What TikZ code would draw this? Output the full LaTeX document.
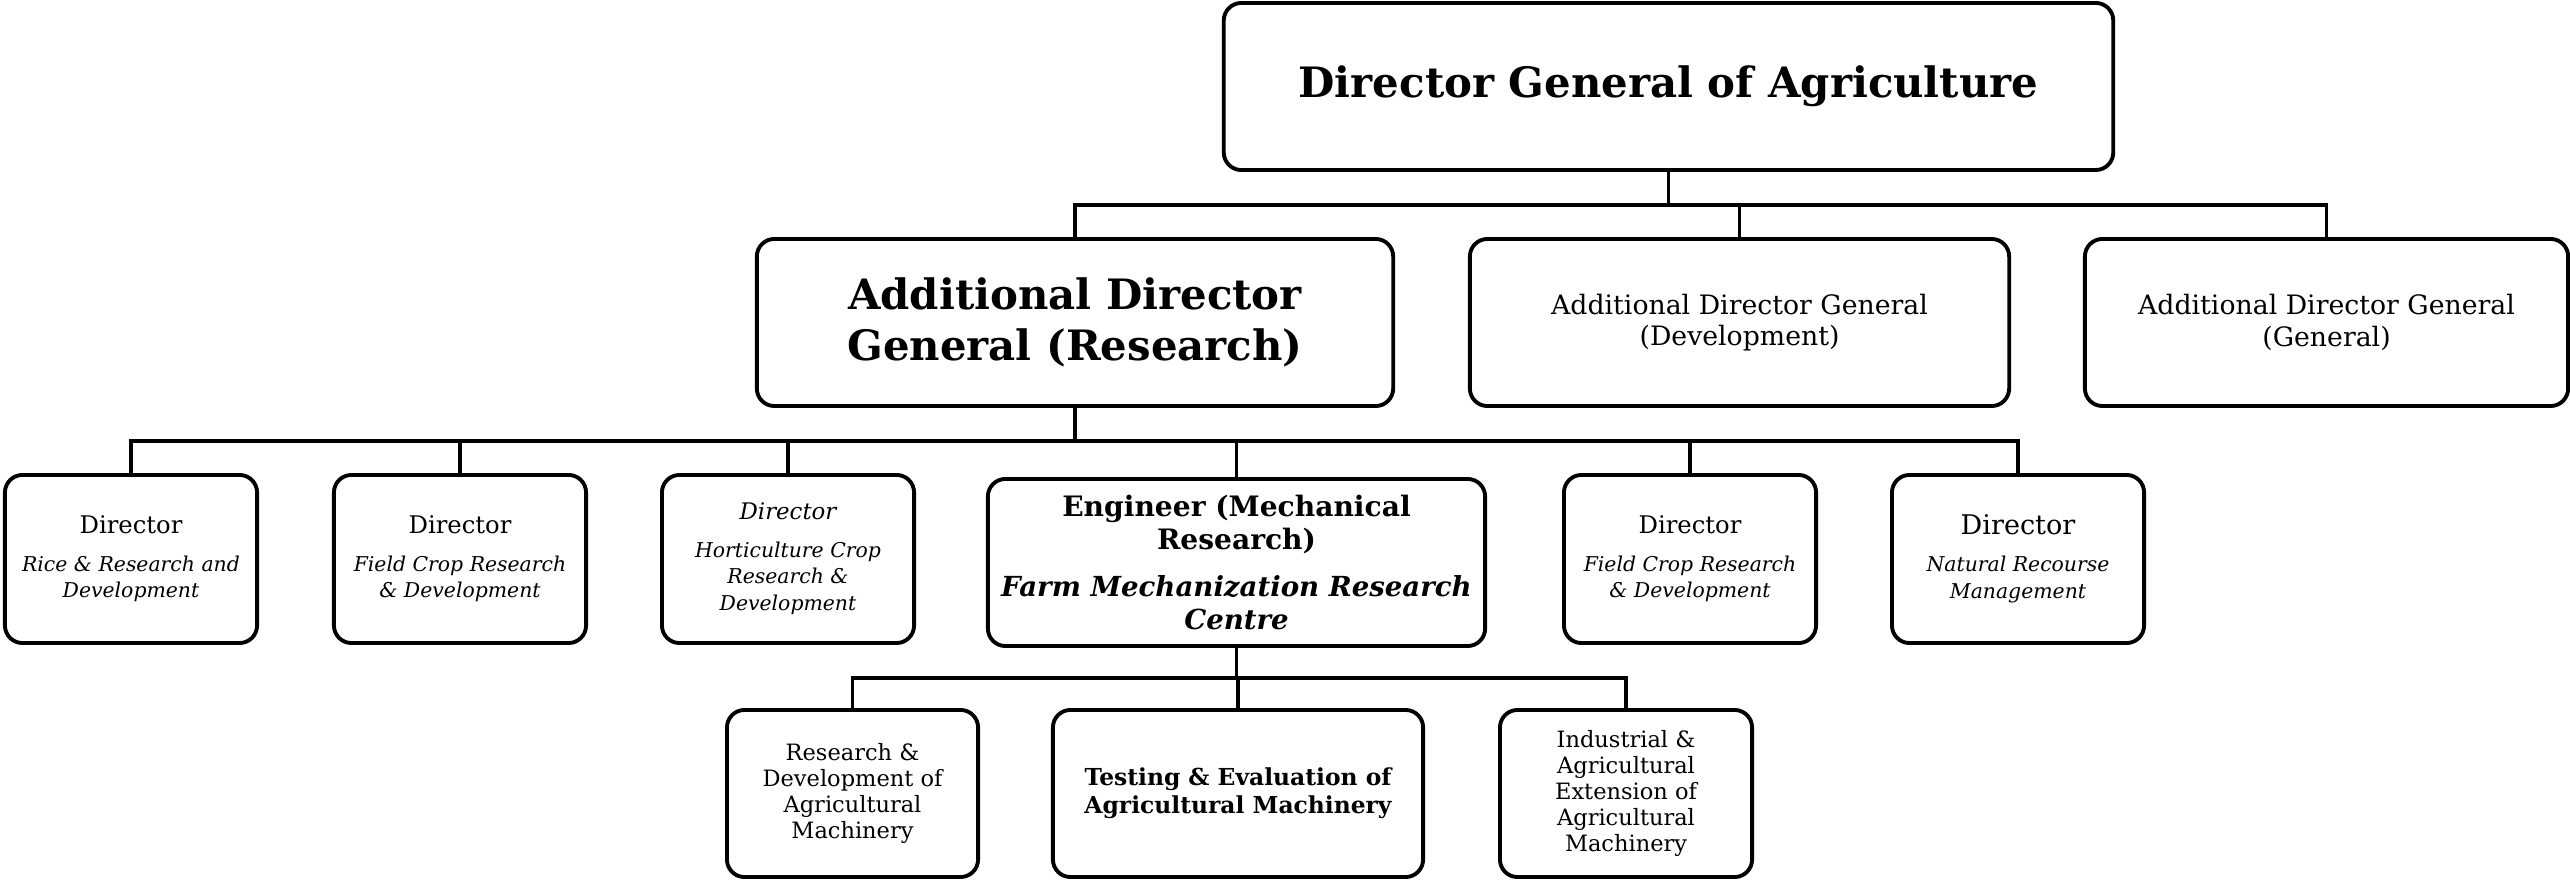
\documentclass[tikz,border=0pt]{standalone}
\usepackage{fontspec}
\setmainfont{DejaVu Serif}
\begin{document}
\begin{tikzpicture}[x=0.01cm,y=-0.01cm,
  box/.style={draw=black,line width=1.1pt,rounded corners=5pt,inner sep=0pt,align=center,fill=white},
  conn/.style={draw=black,line width=0.9pt},
  fTitle/.style={font=\fontsize{11.9}{14}\selectfont\bfseries},
  fBig/.style={font=\fontsize{11.9}{14.5}\selectfont\bfseries},
  fMid/.style={font=\fontsize{7.6}{9}\selectfont},
  fDir/.style={font=\fontsize{5.8}{7.6}\selectfont},
  fEng/.style={font=\fontsize{8}{9.4}\selectfont\bfseries},
  fTest/.style={font=\fontsize{6.65}{8}\selectfont\bfseries},
  fSub/.style={font=\fontsize{6.4}{7.4}\selectfont},
  dirw/.style={font=\fontsize{6.9}{8}\selectfont}]
\useasboundingbox (0,0) rectangle (2570,880);
\fill[white] (0,0) rectangle (2570,880);

% top
\node[box,fTitle,minimum width=8.89cm,minimum height=1.67cm] (top) at (1668.5,86.5) {Director General of Agriculture};

% row 2
\node[box,fBig,minimum width=6.36cm,minimum height=1.67cm] (adgr) at (1075,322.5) {Additional Director\\General (Research)};
\node[box,fMid,minimum width=5.39cm,minimum height=1.67cm] (adgd) at (1739.5,322.5) {Additional Director General\\(Development)};
\node[box,fMid,minimum width=4.83cm,minimum height=1.67cm] (adgg) at (2326.5,322.5) {Additional Director General\\(General)};

% row 3
\node[box,fDir,minimum width=2.52cm,minimum height=1.68cm] (rice) at (131,559) {{\fontsize{6.9}{8}\selectfont Director}\\[3pt]\textit{Rice \& Research and}\\\textit{Development}};
\node[box,fDir,minimum width=2.52cm,minimum height=1.68cm] (field) at (460,559) {{\fontsize{6.9}{8}\selectfont Director}\\[3pt]\textit{Field Crop Research}\\\textit{\& Development}};
\node[box,fDir,minimum width=2.52cm,minimum height=1.68cm] (hort) at (788,559) {{\fontsize{6.5}{8}\selectfont\itshape Director}\\[3pt]\textit{Horticulture Crop}\\\textit{Research \&}\\\textit{Development}};
\node[box,fEng,minimum width=4.97cm,minimum height=1.67cm] (eng) at (1236.5,562.5) {Engineer (Mechanical\\Research)\\[4pt]{\fontsize{7.85}{9.4}\selectfont\itshape Farm Mechanization Research}\\{\fontsize{7.85}{9.4}\selectfont\itshape Centre}};
\node[box,fDir,minimum width=2.52cm,minimum height=1.68cm] (field2) at (1690,559) {{\fontsize{6.9}{8}\selectfont Director}\\[3pt]\textit{Field Crop Research}\\\textit{\& Development}};
\node[box,fDir,minimum width=2.52cm,minimum height=1.68cm] (nat) at (2018,559) {{\fontsize{7.7}{8.5}\selectfont Director}\\[3pt]\textit{Natural Recourse}\\\textit{Management}};

% row 4
\node[box,fSub,minimum width=2.51cm,minimum height=1.67cm] (rd) at (852.5,793.5) {Research \&\\Development of\\Agricultural\\Machinery};
\node[box,fTest,minimum width=3.70cm,minimum height=1.67cm] (test) at (1238,793.5) {Testing \& Evaluation of\\Agricultural Machinery};
\node[box,fSub,minimum width=2.52cm,minimum height=1.67cm] (ind) at (1626,793.5) {Industrial \&\\Agricultural\\Extension of\\Agricultural\\Machinery};

% bus levels
\coordinate (b1) at (0,205);
\coordinate (b2) at (0,441);
\coordinate (b3) at (0,678);

% connectors
\draw[conn] (top.south) |- (adgr.north |- b1) -- (adgr.north);
\draw[conn] (top.south) |- (adgg.north |- b1) -- (adgg.north);
\draw[conn] (adgd.north) -- (adgd.north |- b1);

\draw[conn] (adgr.south) |- (rice.north |- b2) -- (rice.north);
\draw[conn] (adgr.south) |- (nat.north |- b2) -- (nat.north);
\draw[conn] (field.north) -- (field.north |- b2);
\draw[conn] (hort.north) -- (hort.north |- b2);
\draw[conn] (eng.north) -- (eng.north |- b2);
\draw[conn] (field2.north) -- (field2.north |- b2);

\draw[conn] (eng.south) |- (rd.north |- b3) -- (rd.north);
\draw[conn] (eng.south) |- (ind.north |- b3) -- (ind.north);
\draw[conn] (test.north) -- (test.north |- b3);
\end{tikzpicture}
\end{document}
